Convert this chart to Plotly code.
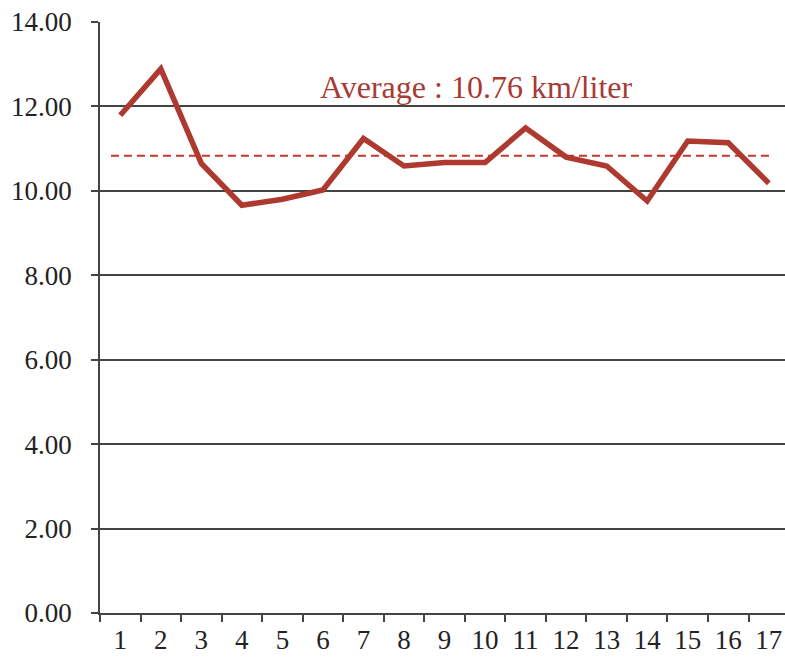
import plotly.graph_objects as go

# Data
trip = list(range(1, 18))
tick_labels = [str(i) for i in trip]
km_per_liter = [11.79, 12.89, 10.65, 9.66, 9.80, 10.02, 11.24, 10.59, 10.67,
                10.67, 11.49, 10.80, 10.59, 9.76, 11.18, 11.14, 10.18]
avg_line_value = 10.83
avg_label = "Average : 10.76 km/liter"
y_ticks = [0, 2, 4, 6, 8, 10, 12, 14]
y_tick_labels = [f"{v:.2f}" for v in y_ticks]
boundaries = [i + 0.5 for i in range(0, 18)]

LINE_RED = "#ae3a2f"
DASH_RED = "#c2382c"
TEXT_RED = "#a83a35"
GRID = "#444444"
FONT = "Liberation Serif"

fig = go.Figure()

fig.add_trace(go.Scatter(
    x=[0.77, 17.12], y=[avg_line_value, avg_line_value],
    mode="lines", line=dict(color=DASH_RED, width=2, dash="8px,5px"),
    hoverinfo="skip", showlegend=False))

fig.add_trace(go.Scatter(
    x=trip, y=km_per_liter, mode="lines",
    line=dict(color=LINE_RED, width=5.5),
    showlegend=False))

# invisible trace on overlay axis for tick marks between categories
fig.add_trace(go.Scatter(x=[1], y=[0], xaxis="x2", mode="markers",
                         marker=dict(opacity=0), showlegend=False,
                         hoverinfo="skip"))

fig.add_annotation(x=9.8, y=12.45, text=avg_label, showarrow=False,
                   xanchor="center", yanchor="middle",
                   font=dict(family=FONT, size=32, color=TEXT_RED))

xr = [0.5, 17.4]
fig.update_layout(
    width=785, height=666,
    margin=dict(l=100, r=0, t=22, b=53),
    paper_bgcolor="white", plot_bgcolor="white",
    font=dict(family=FONT, size=27, color="#222"),
    xaxis=dict(range=xr, tickmode="array", tickvals=trip, ticktext=tick_labels,
               ticks="outside", ticklen=2, tickcolor="rgba(0,0,0,0)",
               showgrid=False, zeroline=False, showline=True,
               linecolor=GRID, linewidth=1.5, automargin=False,
               tickfont=dict(family=FONT, size=27, color="#222")),
    xaxis2=dict(range=xr, overlaying="x", side="bottom", anchor="y",
                tickmode="array", tickvals=boundaries, ticks="outside",
                ticklen=8, tickwidth=1.5, tickcolor=GRID,
                showticklabels=False, showgrid=False, zeroline=False,
                showline=False, automargin=False),
    yaxis=dict(range=[0, 14], tickmode="array", tickvals=y_ticks,
               ticktext=y_tick_labels, ticks="outside", ticklen=7,
               tickwidth=1.5, tickcolor=GRID,
               showgrid=True, gridcolor=GRID, gridwidth=1.5,
               zeroline=False, showline=True, linecolor=GRID, linewidth=1.5,
               ticklabelstandoff=14, automargin=False,
               tickfont=dict(family=FONT, size=27, color="#222")),
)

fig.write_html("out.html", config={"displayModeBar": False},
               post_script="document.body.style.margin='0px';document.body.style.overflow='hidden';")
